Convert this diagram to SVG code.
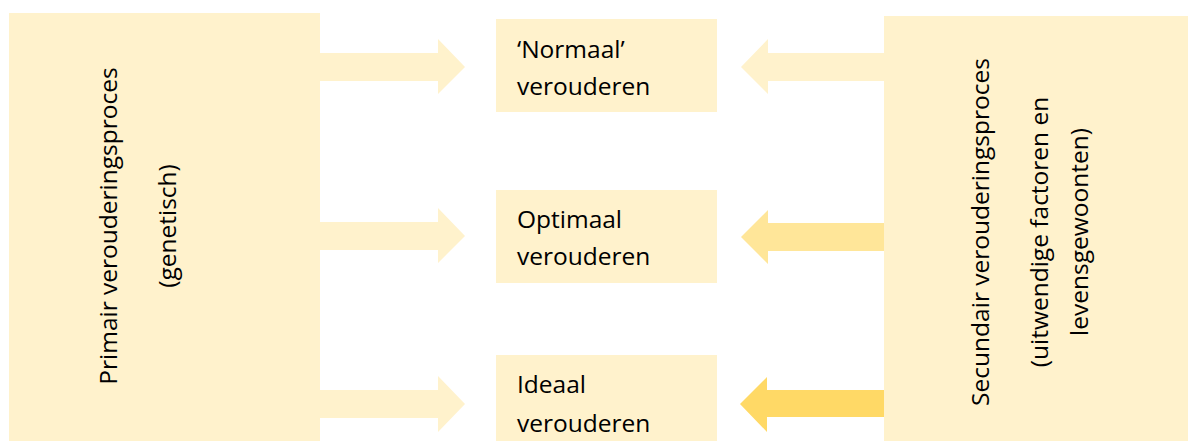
<svg xmlns="http://www.w3.org/2000/svg" width="1188" height="441" viewBox="0 0 1188 441">
<style>
.box{fill:#FFF2CC}
.a1{fill:#FFF2CC}
.a2{fill:#FFE699}
.a3{fill:#FFD966}
text{font-family:"Open Sans","Noto Sans","Liberation Sans",sans-serif;font-size:24.5px;fill:#000}
.mid{text-anchor:middle}
</style>
<rect width="1188" height="441" fill="#FFFFFF"/>
<g id="connectors">
<path class="a1" d="M318,53 H438 V39 L465,67 L438,94 V81 H318 Z"/>
<path class="a1" d="M318,222 H438 V208 L465,236 L438,263 V250 H318 Z"/>
<path class="a1" d="M318,390 H438 V376 L465,404 L438,432 V418 H318 Z"/>
<path class="a1" d="M886,53 H768 V39 L741,67 L768,94 V81 H886 Z"/>
<path class="a2" d="M886,223 H768 V210 L741,237 L768,264 V251 H886 Z"/>
<path class="a3" d="M886,390 H767 V377 L740,404 L767,432 V417 H886 Z"/>
</g>
<g id="primair">
<rect class="box" x="9" y="13" width="311" height="430"/>
<text class="mid" transform="translate(117,226) rotate(-90)">Primair verouderingsproces</text>
<text class="mid" transform="translate(176,226) rotate(-90)">(genetisch)</text>
</g>
<g id="secundair">
<rect class="box" x="884" y="16" width="306" height="427"/>
<text class="mid" transform="translate(989,232) rotate(-90)">Secundair verouderingsproces</text>
<text class="mid" transform="translate(1048,232) rotate(-90)">(uitwendige factoren en</text>
<text class="mid" transform="translate(1088,232) rotate(-90)">levensgewoonten)</text>
</g>
<g id="normaal">
<rect class="box" x="496" y="19" width="221" height="93"/>
<text x="517" y="58">‘Normaal’</text>
<text x="517" y="95">verouderen</text>
</g>
<g id="optimaal">
<rect class="box" x="496" y="190" width="221" height="93"/>
<text x="517" y="228">Optimaal</text>
<text x="517" y="265">verouderen</text>
</g>
<g id="ideaal">
<rect class="box" x="496" y="355" width="221" height="93"/>
<text x="517" y="393">Ideaal</text>
<text x="517" y="432">verouderen</text>
</g>
</svg>
